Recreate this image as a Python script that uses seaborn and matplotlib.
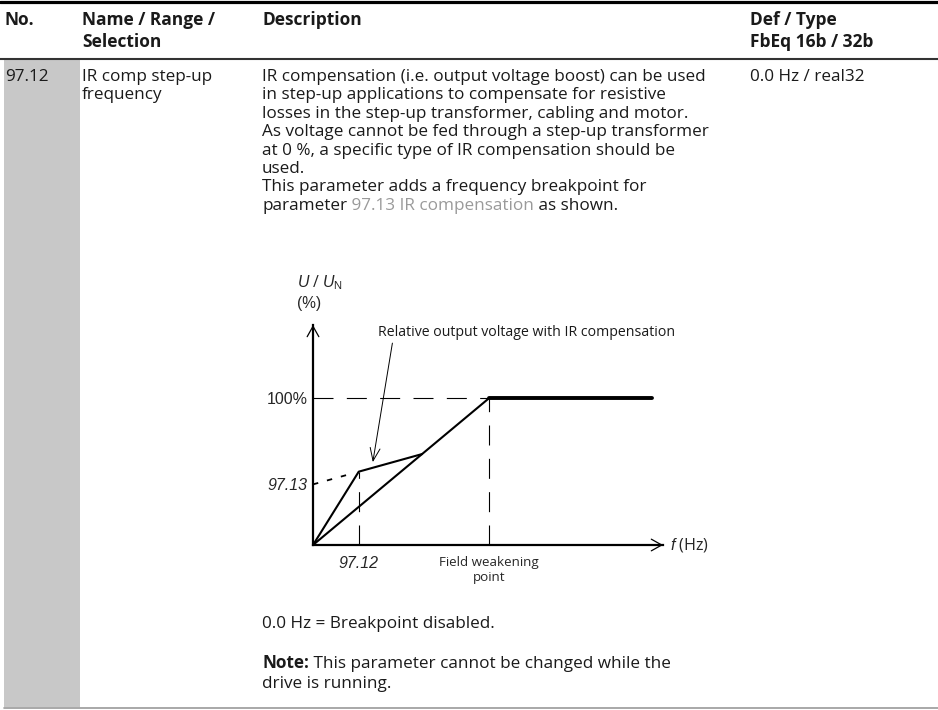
import numpy as np
import pandas as pd
import matplotlib.pyplot as plt
import seaborn as sns

# table content
hdr_no = 'No.'
hdr_name = ['Name / Range /', 'Selection']
hdr_desc = 'Description'
hdr_def = ['Def / Type', 'FbEq 16b / 32b']
param_no = '97.12'
param_name = ['IR comp step-up', 'frequency']
desc_lines = ['IR compensation (i.e. output voltage boost) can be used',
              'in step-up applications to compensate for resistive',
              'losses in the step-up transformer, cabling and motor.',
              'As voltage cannot be fed through a step-up transformer',
              'at 0 %, a specific type of IR compensation should be',
              'used.',
              'This parameter adds a frequency breakpoint for']
link_text = '97.13 IR compensation'
def_type = '0.0 Hz / real32'
disabled_text = '0.0 Hz = Breakpoint disabled.'
note_lines = ['This parameter cannot be changed while the', 'drive is running.']

# chart data (f in Hz, U/UN in %)
freq_comp = [0, 13, 31, 50]
volt_comp = [0, 50, 62, 100]
freq_lin = [0, 31]
volt_lin = [0, 62]
freq_flat = [50, 96.3]
volt_flat = [100, 100]
x_labels = ['97.12', 'Field weakening\npoint']

sns.set_style('white')
plt.rcParams['font.family'] = ['Open Sans', 'DejaVu Sans']
plt.rcParams['mathtext.fontset'] = 'custom'
plt.rcParams['mathtext.rm'] = 'Liberation Sans'
plt.rcParams['mathtext.it'] = 'Liberation Sans:italic'

fig = plt.figure(figsize=(9.38, 7.10), dpi=100)
page = fig.add_axes([0, 0, 1, 1])
page.set_xlim(0, 938)
page.set_ylim(710, 0)
page.axis('off')

txt = '#1a1a1a'
fs = 12.3
# rules and shaded column
page.axhline(2, color='black', lw=2.3)
page.axhline(58.5, color='#333333', lw=1.5)
page.axhline(708, xmin=4/938, color='#9a9a9a', lw=1.2)
page.axvspan(4, 80, ymin=(710-707)/710, ymax=(710-59.5)/710, color='#c8c8c8', lw=0)

hb = dict(fontsize=12.5, fontweight='bold', color=txt, va='baseline')
page.text(5, 25, hdr_no, **hb)
page.text(82, 25, hdr_name[0], **hb)
page.text(82, 47, hdr_name[1], **hb)
page.text(262, 25, hdr_desc, **hb)
page.text(750, 25, hdr_def[0], **hb)
page.text(750, 47, hdr_def[1], **hb)

bt = dict(fontsize=fs, color=txt, va='baseline')
page.text(5, 81, param_no, **bt)
page.text(82, 81, param_name[0], **bt)
page.text(82, 99.4, param_name[1], **bt)
page.text(750, 81, def_type, **bt)
for i, line in enumerate(desc_lines):
    page.text(262, 81 + i * 18.4, line, **bt)
t1 = page.text(262, 81 + 7 * 18.4, 'parameter', fontsize=fs, color=txt, va='baseline')
t2 = page.annotate(' ' + link_text, xy=(1, 0), xycoords=t1, va='bottom', ha='left',
                   fontsize=fs, color='#9a9a9a')
page.annotate(' as shown.', xy=(1, 0), xycoords=t2, va='bottom', ha='left',
              fontsize=fs, color=txt)

page.text(262, 628, disabled_text, **bt)
t3 = page.text(262, 668, 'Note:', fontsize=fs, fontweight='bold', color=txt, va='baseline')
page.annotate(' ' + note_lines[0], xy=(1, 0), xycoords=t3, va='bottom', ha='left',
              fontsize=fs, color=txt)
page.text(262, 688, note_lines[1], **bt)

# chart
ax = fig.add_axes([313/938, (710-545)/710, 350/938, 220/710])
ax.set_xlim(0, 99.5)
ax.set_ylim(0, 150)
ax.patch.set_alpha(0)
for s in ['top', 'right']:
    ax.spines[s].set_visible(False)
for s in ['left', 'bottom']:
    ax.spines[s].set_linewidth(1.6)
    ax.spines[s].set_color('black')

sns.lineplot(x=freq_comp, y=volt_comp, ax=ax, color='black', lw=1.5, sort=False, estimator=None)
sns.lineplot(x=freq_lin, y=volt_lin, ax=ax, color='black', lw=1.5, sort=False, estimator=None)
sns.lineplot(x=freq_flat, y=volt_flat, ax=ax, color='black', lw=2.8, sort=False, estimator=None)

# guide lines
dash = dict(color='black', lw=0.8, dashes=(18, 12))
ax.plot([0, freq_comp[3]], [volt_comp[3]] * 2, **dash)
ax.plot([freq_comp[3]] * 2, [0, volt_comp[3]], **dash)
ax.plot([freq_comp[1]] * 2, [0, volt_comp[1]], **dash)
slope = (volt_comp[2] - volt_comp[1]) / (freq_comp[2] - freq_comp[1])
v0 = volt_comp[1] - slope * freq_comp[1]
ax.plot([0, freq_comp[1] - 2], [v0, v0 + slope * (freq_comp[1] - 2)], color='black', lw=1.3,
        dashes=(3, 5))

ax.set_xticks([freq_comp[1], freq_comp[3]])
ax.set_xticklabels(x_labels)
ax.set_yticks([v0, 100])
ax.set_yticklabels(['97.13', '100%'])
ax.tick_params(length=0, pad=4)
ax.tick_params(axis='x', pad=8)
xl = ax.get_xticklabels()
xl[0].set_fontfamily('Liberation Sans')
xl[0].set_fontstyle('italic')
xl[0].set_fontsize(11.5)
xl[1].set_fontsize(9.6)
xl[1].set_linespacing(1.15)
yl = ax.get_yticklabels()
for lab in yl:
    lab.set_fontfamily('Liberation Sans')
    lab.set_fontsize(11.5)
yl[0].set_fontstyle('italic')

# axis arrows
head = dict(arrowstyle='->,head_length=0.75,head_width=0.42', lw=0.9, color='black',
            shrinkA=0, shrinkB=0)
ax.annotate('', xy=(1, 0), xytext=(0.9, 0), xycoords='axes fraction', arrowprops=head)
ax.annotate('', xy=(0, 1), xytext=(0, 0.9), xycoords='axes fraction', arrowprops=head)

ax.text(101.4, 0, '$f$ (Hz)', fontsize=11.6, va='center', ha='left', clip_on=False)
ax.text(-4.5, 179, '$U$ / $U_\\mathrm{N}$', fontsize=11.4, va='center', ha='left', clip_on=False)
ax.text(-4.5, 165, '(%)', fontsize=11.2, family='Liberation Sans', va='center', ha='left',
        clip_on=False)
ax.annotate('Relative output voltage with IR compensation', xy=(17.0, 56.5),
            xytext=(18.5, 145), fontsize=10.2, color=txt, va='center', ha='left',
            arrowprops=dict(arrowstyle='->,head_length=0.9,head_width=0.35', lw=0.7,
                            color='black', shrinkA=0, shrinkB=0,
                            relpos=(0.05, 0)), annotation_clip=False)

fig.savefig('out.png', dpi=100)
